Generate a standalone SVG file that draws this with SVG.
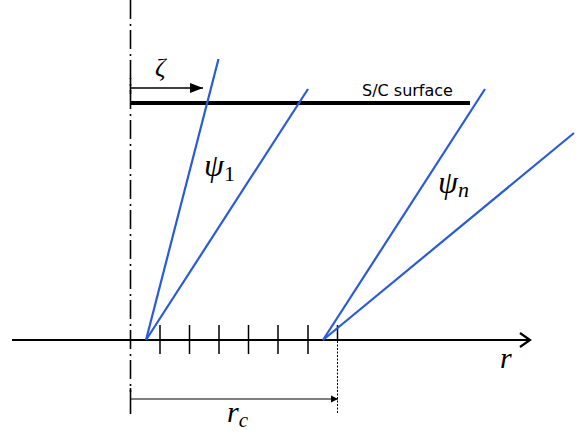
<svg xmlns="http://www.w3.org/2000/svg" width="585" height="434" viewBox="0 0 585 434">
<style>
.ax{stroke:#000;stroke-width:2;fill:none}
.tk{stroke:#000;stroke-width:1.5;fill:none}
.ray{stroke:#2a5bd7;stroke-width:2.2;fill:none}
.math{font-family:"Liberation Serif","DejaVu Serif",serif;font-style:italic;fill:#000}
.lbl{font-family:"DejaVu Sans","Liberation Sans",sans-serif;font-size:16px;fill:#000}
</style>
<defs>
<marker id="open" markerWidth="14" markerHeight="16" refX="12" refY="8" orient="auto" markerUnits="userSpaceOnUse">
<path d="M2,1 L12,8 L2,15" fill="none" stroke="#000" stroke-width="2.2"/>
</marker>
<marker id="fill" markerWidth="14" markerHeight="10" refX="13" refY="5" orient="auto" markerUnits="userSpaceOnUse">
<path d="M0,0 L13,5 L0,10 Z" fill="#000"/>
</marker>
<marker id="fillsm" markerWidth="8" markerHeight="8" refX="7" refY="4" orient="auto" markerUnits="userSpaceOnUse">
<path d="M0,0.5 L7,4 L0,7.5 Z" fill="#000"/>
</marker>
</defs>
<g id="connectors">
<line id="symmetry-axis" x1="130.5" y1="0" x2="130.5" y2="392" stroke="#000" stroke-width="1.6" stroke-dasharray="19 5 2 4"/>
<line id="r-axis" class="ax" x1="12" y1="340" x2="530" y2="340" marker-end="url(#open)"/>
<g id="ticks" class="tk">
<line x1="160" y1="325" x2="160" y2="354"/>
<line x1="189.5" y1="325" x2="189.5" y2="354"/>
<line x1="219" y1="325" x2="219" y2="354"/>
<line x1="248.5" y1="325" x2="248.5" y2="354"/>
<line x1="278" y1="325" x2="278" y2="354"/>
<line x1="308" y1="325" x2="308" y2="354"/>
<line x1="337.5" y1="325" x2="337.5" y2="341"/>
</g>
<line x1="337.5" y1="341" x2="337.5" y2="414" stroke="#000" stroke-width="1" stroke-dasharray="2 1.5"/>
<line x1="130.5" y1="388" x2="130.5" y2="414" stroke="#000" stroke-width="1.6"/>
<line id="rc-dim" x1="130.5" y1="399" x2="338" y2="399" stroke="#000" stroke-width="1.2" marker-end="url(#fillsm)"/>
<line id="zeta-arrow" x1="130.5" y1="88" x2="203" y2="88" stroke="#000" stroke-width="1.5" marker-end="url(#fill)"/>
<line x1="130.5" y1="78" x2="130.5" y2="94" stroke="#000" stroke-width="1.6"/>
</g>
<g id="sc-surface">
<line x1="130" y1="103" x2="470" y2="103" stroke="#000" stroke-width="4"/>
<text class="lbl" x="362" y="96">S/C surface</text>
</g>
<g id="rays-1">
<line class="ray" x1="146" y1="340" x2="218.5" y2="59"/>
<line class="ray" x1="146" y1="340" x2="308" y2="89"/>
<text class="math" x="204" y="176" font-size="32">ψ<tspan font-style="normal" font-size="22" dy="5">1</tspan></text>
</g>
<g id="rays-n">
<line class="ray" x1="323" y1="340" x2="485" y2="89"/>
<line class="ray" x1="323" y1="340" x2="574" y2="133"/>
<text class="math" x="438" y="193" font-size="32">ψ<tspan font-size="22" dy="4">n</tspan></text>
</g>
<g id="labels">
<text class="math" x="155" y="76" font-size="26">ζ</text>
<text class="math" x="500" y="368" font-size="30">r</text>
<text class="math" x="227" y="422" font-size="30">r<tspan font-size="21" dy="5">c</tspan></text>
</g>
</svg>
